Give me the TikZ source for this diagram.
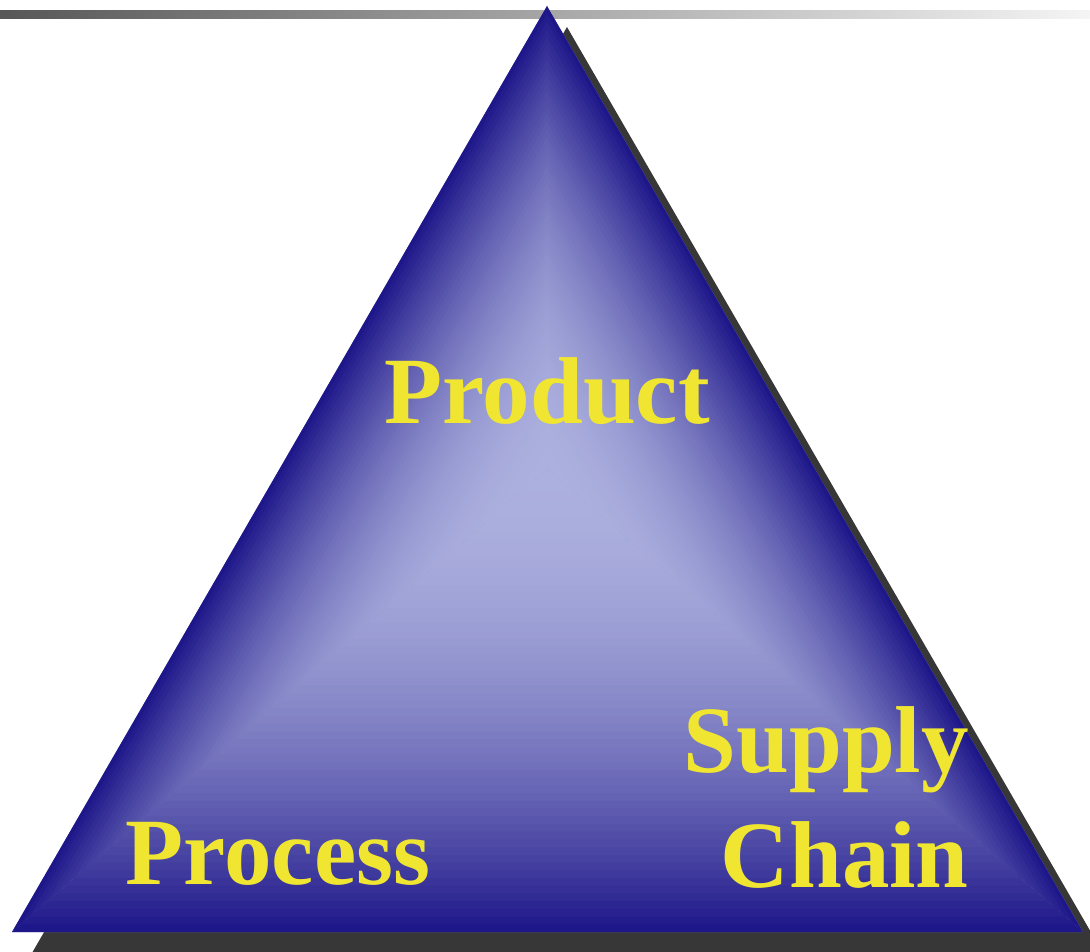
\documentclass[tikz,border=0pt]{standalone}
\usepackage{fontspec}
\setmainfont{Liberation Serif}
\usetikzlibrary{calc}
\definecolor{edgeblue}{HTML}{1C1488}
\definecolor{coreblue}{HTML}{ACB0DE}
\definecolor{shadowgray}{HTML}{373737}
\definecolor{wordyellow}{HTML}{F0E632}

\begin{document}
\begin{tikzpicture}[x=1pt, y=-1pt]
  \tikzset{
    word/.style={text=wordyellow, inner sep=0pt, font=\bfseries\fontsize{95}{115}\selectfont},
    rule/.style={left color=black!66, right color=black!4}
  }
  \useasboundingbox (0,0) rectangle (1090,952);
  \clip (0,0) rectangle (1090,952);

  \coordinate (apex) at (547,6);
  \coordinate (bl) at (12,932);
  \coordinate (br) at (1083,932);
  \coordinate (ctr) at (547,469);

  % top bar
  \shade[rule] (0,11) rectangle (1090,19);

  % shadow
  \fill[shadowgray] ($(apex)+(20,21)$) -- ($(bl)+(20,21)$) -- ($(br)+(20,21)$) -- cycle;

  % body, shaded from each side to the centre
  \fill[coreblue!75!edgeblue] (apex) -- (bl) -- (br) -- cycle;
  \foreach \a/\b in {apex/bl, bl/br, br/apex}
    \foreach \i in {0,...,59} {
      \pgfmathsetmacro\ta{\i/60}
      \pgfmathsetmacro\tb{min((\i+1.5)/60,1)}
      \pgfmathsetmacro\p{100*(1-(1-(\i+0.5)/60)^2)}
      \fill[coreblue!\p!edgeblue] ($(\a)!\ta!(ctr)$) -- ($(\b)!\ta!(ctr)$)
        -- ($(\b)!\tb!(ctr)$) -- ($(\a)!\tb!(ctr)$) -- cycle;
    }

  \node[word, anchor=base] (product) at (547,423) {Product};
  \node[word, anchor=base] (process) at (278,884) {Process};
  \node[word, anchor=base east, align=right] (supply) at (969,887) {Supply\\Chain};
\end{tikzpicture}
\end{document}
